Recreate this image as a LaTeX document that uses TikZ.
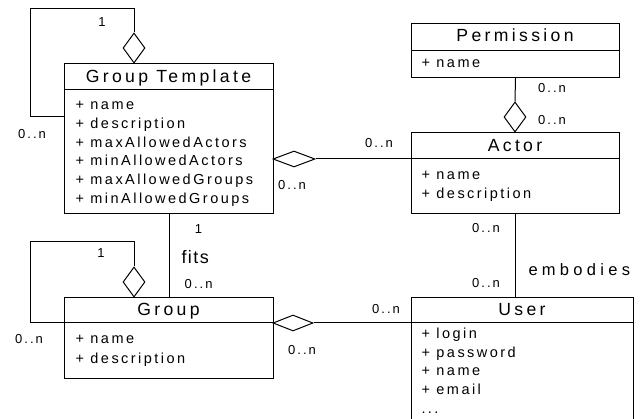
\documentclass[tikz,border=0pt]{standalone}
\usepackage{fontspec}
\setmainfont{Liberation Sans}
\newfontfamily\titlefont{Liberation Sans}[LetterSpace=19]
\newfontfamily\attrfont{Liberation Sans}[LetterSpace=17]
\newfontfamily\multfont{Liberation Sans}[LetterSpace=16]
\newfontfamily\rolefont{Liberation Sans}[LetterSpace=26]
\newfontfamily\fitsfont{Liberation Sans}[LetterSpace=8]
\usetikzlibrary{shapes.geometric}

\begin{document}
\begin{tikzpicture}[x=1pt,y=-1pt,line width=1pt,
  classbox/.style={draw,inner sep=0pt,anchor=north west},
  title/.style={font=\titlefont\fontsize{17.6}{20}\selectfont,anchor=base,inner sep=0pt},
  attr/.style={font=\attrfont\fontsize{14.5}{17}\selectfont,anchor=base west,inner sep=0pt},
  mult/.style={font=\multfont\fontsize{13}{15}\selectfont,anchor=base,inner sep=0pt},
  vdiam/.style={diamond,draw,fill=white,inner sep=0pt,minimum width=22pt,minimum height=30pt},
  hdiam/.style={diamond,draw,fill=white,inner sep=0pt,minimum width=42pt,minimum height=16pt},
]
\useasboundingbox (0,0) rectangle (642,419);
\clip (0,0) rectangle (642,419);

% ---------- classes ----------
% Group Template
\node[classbox,minimum width=209pt,minimum height=150pt] (gt) at (64,63) {};
\draw ([yshift=-27pt]gt.north west) -- ([yshift=-27pt]gt.north east);
\node[title] (gtT) at (168.5,83) {Group Template};
\node[attr] (gt-1) at (75,110.0) {+ name};
\node[attr] (gt-2) at (75,128.7) {+ description};
\node[attr] (gt-3) at (75,147.3) {+ maxAllowedActors};
\node[attr] (gt-4) at (75,166.0) {+ minAllowedActors};
\node[attr] (gt-5) at (75,184.7) {+ maxAllowedGroups};
\node[attr] (gt-6) at (75,203.3) {+ minAllowedGroups};

% Permission
\node[classbox,minimum width=208pt,minimum height=54pt] (perm) at (411,23) {};
\draw ([yshift=-28pt]perm.north west) -- ([yshift=-28pt]perm.north east);
\node[title] (permT) at (515,42) {Permission};
\node[attr] (perm-1) at (421,68) {+ name};

% Actor
\node[classbox,minimum width=208pt,minimum height=81pt] (act) at (411,132) {};
\draw ([yshift=-27pt]act.north west) -- ([yshift=-27pt]act.north east);
\node[title] (actT) at (515,152) {Actor};
\node[attr] (act-1) at (421,180) {+ name};
\node[attr] (act-2) at (421,199) {+ description};

% Group
\node[classbox,minimum width=209pt,minimum height=81pt] (grp) at (64,297) {};
\draw ([yshift=-26pt]grp.north west) -- ([yshift=-26pt]grp.north east);
\node[title] (grpT) at (168.5,316) {Group};
\node[attr] (grp-1) at (75,344) {+ name};
\node[attr] (grp-2) at (75,363) {+ description};

% User (runs past the lower edge)
\node[classbox,minimum width=222pt,minimum height=150pt] (usr) at (411,297) {};
\draw ([yshift=-26pt]usr.north west) -- ([yshift=-26pt]usr.north east);
\node[title] (usrT) at (522,316) {User};
\node[attr] (usr-1) at (421,338.3) {+ login};
\node[attr] (usr-2) at (421,357.0) {+ password};
\node[attr] (usr-3) at (421,375.6) {+ name};
\node[attr] (usr-4) at (421,394.3) {+ email};
\node[attr] (usr-5) at (421,413.0) {...};

% ---------- associations ----------
% Group Template aggregates itself
\node[vdiam] (gtd) at (134,48) {};
\coordinate (gtl1) at (134,9);
\coordinate (gtl2) at (30,9);
\coordinate (gtl3) at (30,117);
\draw (gtd.north) -- (gtl1) -- (gtl2) -- (gtl3) -- (gtl3 -| gt.west);
\node[mult] (m1) at (102,27) {1};
\node[mult] (m2) at (32,139) {0..n};

% Actor aggregates Permission
\node[vdiam] (pad) at (515,117) {};
\draw (perm.south) -- (pad.north);
\node[mult] (m3) at (552,93) {0..n};
\node[mult] (m4) at (552,125) {0..n};

% Group Template aggregates Actor
\node[hdiam] (gad) at (294,159) {};
\draw (gad.east) -- (gad.east -| act.west);
\node[mult] (m5) at (379,148) {0..n};
\node[mult] (m6) at (292,190) {0..n};

% Group fits Group Template
\coordinate (fitx) at (169,0);
\draw (gt.south -| fitx) -- (grp.north -| fitx);
\node[mult] (m7) at (198.5,234) {1};
\node[font=\fitsfont\fontsize{18}{21}\selectfont,anchor=base west,inner sep=0pt] (fits) at (181,264) {fits};
\node[mult] (m8) at (198.7,289) {0..n};

% Group aggregates itself
\node[vdiam] (gd) at (134,282) {};
\coordinate (gl1) at (134,242);
\coordinate (gl2) at (30,242);
\coordinate (gl3) at (30,323);
\draw (gd.north) -- (gl1) -- (gl2) -- (gl3) -- (gl3 -| grp.west);
\node[mult] (m9) at (101,258) {1};
\node[mult] (m10) at (29,344) {0..n};

% Group aggregates User
\node[hdiam,minimum width=40pt] (gud) at (293,323) {};
\draw (gud.east) -- (gud.east -| usr.west);
\node[mult] (m11) at (386,314) {0..n};
\node[mult] (m12) at (302,354) {0..n};

% User embodies Actor
\draw (act.south) -- (act.south |- usr.north);
\node[mult] (m13) at (486,233) {0..n};
\node[mult] (m14) at (486,288) {0..n};
\node[font=\rolefont\fontsize{16.5}{19}\selectfont,anchor=base west,inner sep=0pt] (emb) at (528,276) {embodies};
\end{tikzpicture}
\end{document}
